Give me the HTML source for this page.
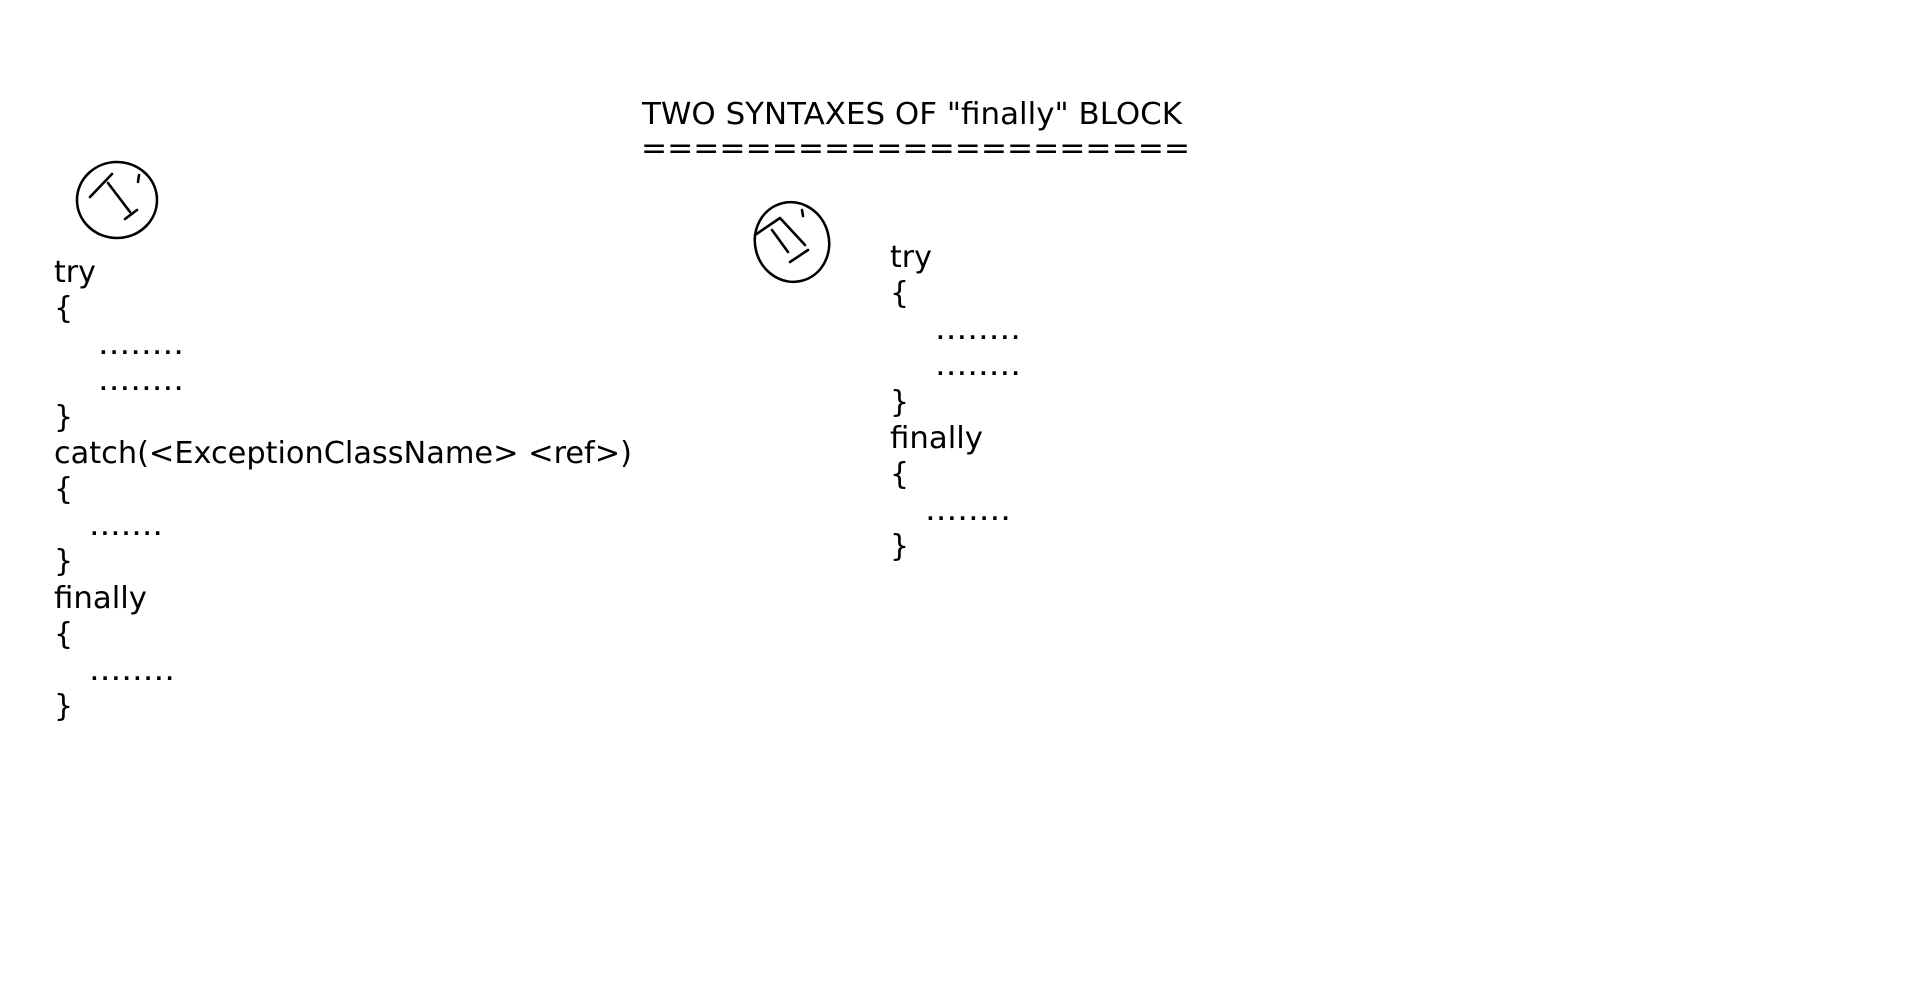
<!DOCTYPE html>
<html><head><meta charset="utf-8"><style>
html,body{margin:0;padding:0;background:#fff;}
svg{display:block;}
text{font-family:"DejaVu Sans","Liberation Sans",sans-serif;font-size:30px;fill:#000;}
.m{fill:none;stroke:#000;stroke-width:2.6;stroke-linecap:round;stroke-linejoin:round;}
</style></head><body>
<svg width="1920" height="991" viewBox="0 0 1920 991">
<text x="642" y="124" textLength="540" lengthAdjust="spacingAndGlyphs">TWO SYNTAXES OF "finally" BLOCK</text>
<text x="641" y="158" textLength="549" lengthAdjust="spacingAndGlyphs">=====================</text>

<g>
<ellipse class="m" cx="117" cy="200" rx="40" ry="38"/>
<path class="m" d="M90,197 L112,174 M108,183 L130,212 M125,219 L137,210 M139,175 L138,182"/>
</g>
<g>
<text x="54" y="282">try</text>
<text x="54" y="318">{</text>
<text x="98" y="354" textLength="86" lengthAdjust="spacingAndGlyphs">........</text>
<text x="98" y="390" textLength="86" lengthAdjust="spacingAndGlyphs">........</text>
<text x="54" y="427">}</text>
<text x="54" y="463" textLength="578" lengthAdjust="spacingAndGlyphs">catch(&lt;ExceptionClassName&gt; &lt;ref&gt;)</text>
<text x="54" y="499">{</text>
<text x="89" y="535" textLength="74" lengthAdjust="spacingAndGlyphs">.......</text>
<text x="54" y="571">}</text>
<text x="54" y="608" textLength="93" lengthAdjust="spacingAndGlyphs">finally</text>
<text x="54" y="644">{</text>
<text x="89" y="680" textLength="86" lengthAdjust="spacingAndGlyphs">........</text>
<text x="54" y="716">}</text>
</g>

<g>
<ellipse class="m" cx="792" cy="242" rx="37" ry="40" transform="rotate(-15 792 242)"/>
<path class="m" d="M755,235 L780,218 L805,245 M772,230 L788,252 M790,262 L808,250 M802,210 L803,216"/>
</g>
<g>
<text x="890" y="267">try</text>
<text x="890" y="303">{</text>
<text x="935" y="339" textLength="86" lengthAdjust="spacingAndGlyphs">........</text>
<text x="935" y="375" textLength="86" lengthAdjust="spacingAndGlyphs">........</text>
<text x="890" y="412">}</text>
<text x="890" y="448" textLength="93" lengthAdjust="spacingAndGlyphs">finally</text>
<text x="890" y="484">{</text>
<text x="925" y="520" textLength="86" lengthAdjust="spacingAndGlyphs">........</text>
<text x="890" y="556">}</text>
</g>
</svg>
</body></html>
